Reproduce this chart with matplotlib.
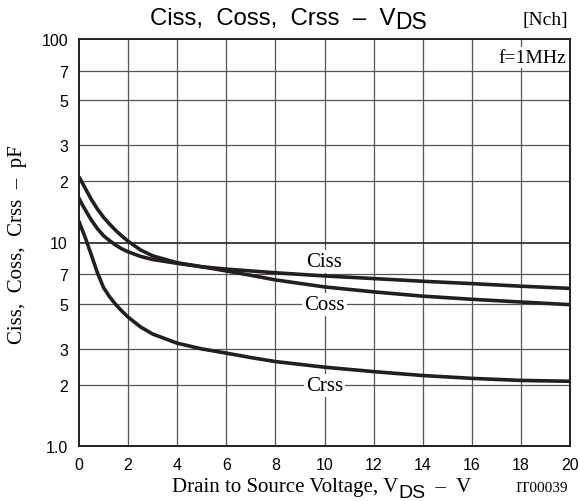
import matplotlib.pyplot as plt
from matplotlib.ticker import FixedLocator, FixedFormatter

# Data
vds = [0, 0.1, 0.25, 0.5, 0.75, 1, 1.25, 1.5, 1.75, 2, 2.5, 3, 4, 5, 6, 7, 8,
       10, 12, 14, 16, 18, 20]
ciss = [21.0, 20.0, 18.5, 16.3, 14.6, 13.3, 12.3, 11.45, 10.75, 10.15, 9.2,
        8.6, 7.95, 7.6, 7.4, 7.25, 7.1, 6.85, 6.65, 6.45, 6.28, 6.1, 5.95]
coss = [16.5, 15.6, 14.5, 12.9, 11.7, 10.8, 10.2, 9.7, 9.3, 9.0, 8.55, 8.25,
        7.9, 7.6, 7.25, 6.9, 6.55, 6.05, 5.72, 5.45, 5.26, 5.1, 4.95]
crss = [12.7, 11.8, 10.6, 8.7, 7.1, 6.0, 5.4, 4.95, 4.6, 4.3, 3.85, 3.55,
        3.2, 3.0, 2.86, 2.72, 2.6, 2.44, 2.32, 2.22, 2.15, 2.1, 2.08]

x_ticks = [0, 2, 4, 6, 8, 10, 12, 14, 16, 18, 20]
y_ticks = [1, 2, 3, 5, 7, 10, 20, 30, 50, 70, 100]
y_tick_labels = ['1.0', '2', '3', '5', '7', '10', '2', '3', '5', '7', '100']

SERIF = 'Liberation Serif'
SANS = 'Liberation Sans'
INK = '#231f20'

W, H = 580, 502
fig = plt.figure(figsize=(W / 100, H / 100), dpi=100)
ax = fig.add_axes([79 / W, 1 - 447 / H, (570 - 79) / W, (447 - 40) / H])

ax.set_yscale('log')
ax.set_xlim(0, 20)
ax.set_ylim(1, 100)

# grid
for x in x_ticks[1:-1]:
    ax.axvline(x, color='#555555', lw=0.9, zorder=1)
for y in y_ticks[1:-1]:
    ax.axhline(y, color='#222222' if y == 10 else '#555555',
               lw=1.2 if y == 10 else 0.9, zorder=1)

# curves
for vals in (ciss, coss, crss):
    ax.plot(vds, vals, color=INK, lw=2.6, solid_capstyle='round',
            solid_joinstyle='round', zorder=3)

# ticks
ax.xaxis.set_major_locator(FixedLocator(x_ticks))
ax.yaxis.set_major_locator(FixedLocator(y_ticks))
ax.yaxis.set_major_formatter(FixedFormatter(y_tick_labels))
ax.yaxis.set_minor_locator(FixedLocator([]))
ax.tick_params(length=0, labelsize=11.5, pad=8)
for lab in ax.get_xticklabels() + ax.get_yticklabels():
    lab.set_family(SANS)
for sp in ax.spines.values():
    sp.set_color(INK)
    sp.set_linewidth(1.4)
    sp.set_zorder(4)

# curve labels
box = dict(facecolor='white', edgecolor='none', pad=1.5)
ax.text(10, 8.1, 'Ciss', family=SERIF, fontsize=15, ha='center', va='center',
        bbox=box, zorder=2)
ax.text(10, 4.95, 'Coss', family=SERIF, fontsize=15, ha='center', va='center',
        bbox=box, zorder=2)
ax.text(10, 1.98, 'Crss', family=SERIF, fontsize=15, ha='center', va='center',
        bbox=box, zorder=2)
ax.text(0.993, 0.975, 'f=1MHz', transform=ax.transAxes, family=SERIF,
        fontsize=14, ha='right', va='top', bbox=box, zorder=2)

# y label
fig.text(18 / W, 1 - 245 / H, 'Ciss,  Coss,  Crss  \u2013  pF', family=SERIF,
         fontsize=15, rotation=90, ha='center', va='center')


def put_parts(x_px, y_px, parts):
    r = fig.canvas.get_renderer()
    x = x_px
    for s, fam, size, dy in parts:
        t = fig.text(x / W, 1 - (y_px + dy) / H, s, family=fam, fontsize=size,
                     ha='left', va='baseline')
        x = t.get_window_extent(r).x1


# title
put_parts(150, 25, [('Ciss,  Coss,  Crss  \u2013  V', SANS, 17.3, 0),
                    ('DS', SANS, 16.5, 4)])
fig.text(568 / W, 1 - 25 / H, '[Nch]', family=SERIF, fontsize=14,
         ha='right', va='baseline')

# x label
put_parts(172, 492, [('Drain to Source Voltage, V', SERIF, 15, 0),
                     ('DS', SANS, 14, 6),
                     ('  \u2013  V', SERIF, 15, 0)])
fig.text(568 / W, 1 - 492 / H, 'IT00039', family=SERIF, fontsize=11,
         ha='right', va='baseline')

fig.savefig('out.png', dpi=100)
